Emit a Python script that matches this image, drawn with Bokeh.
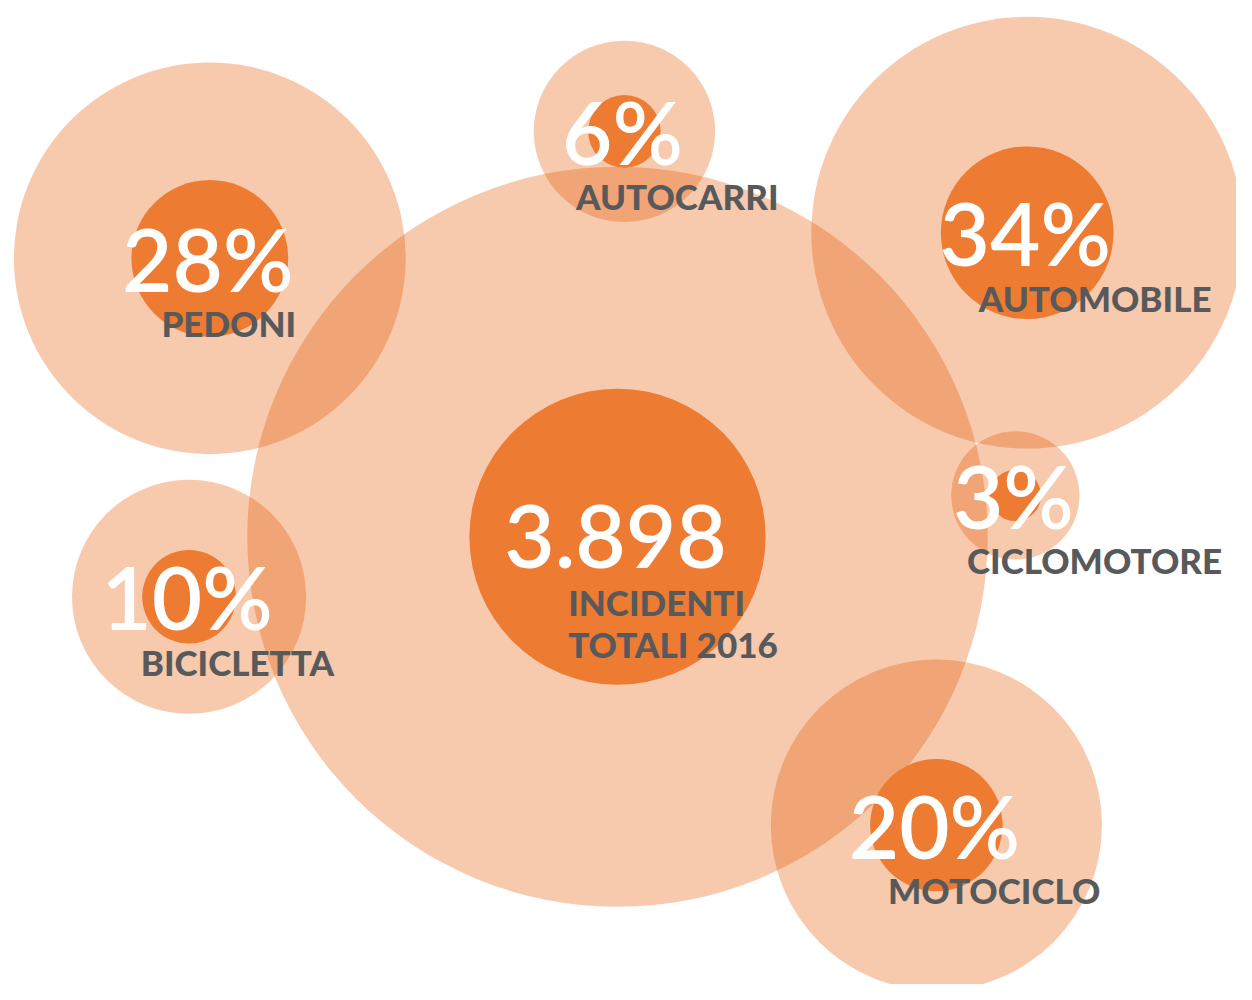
from math import sqrt
from bokeh.plotting import figure
from bokeh.models import ColumnDataSource, Range1d
from bokeh.core.properties import value
from bokeh.embed import file_html
from bokeh.resources import INLINE

# ---- data ----
categories = ["PEDONI", "AUTOCARRI", "AUTOMOBILE", "CICLOMOTORE", "BICICLETTA", "MOTOCICLO"]
shares = [28, 6, 34, 3, 10, 20]          # % of total accidents
total_accidents = 3898
total_label = ["INCIDENTI", "TOTALI 2016"]

# ---- layout (bubble centres, reference pixels) ----
cx = [212, 632, 1040, 1028, 191, 948]
cy = [262, 133, 236, 503, 606, 838]
total_cx, total_cy = 625, 545

INNER_K = 15.0    # inner radius = K * sqrt(share)
OUTER_F = 2.5     # outer halo = F * inner radius

HALO = "#E65600"
DARK = "#ED7B32"
GREY = "#58595B"

all_x = [total_cx] + cx
all_y = [total_cy] + cy
all_share = [100] + shares
inner_r = [INNER_K * sqrt(s) for s in all_share]
outer_r = [OUTER_F * r for r in inner_r]

bubbles = ColumnDataSource(dict(x=all_x, y=all_y, ri=inner_r, ro=outer_r))

num_text = [f"{total_accidents:,}".replace(",", ".")] + [f"{s}%" for s in shares]
nums = ColumnDataSource(dict(x=[x - 2 for x in all_x], y=all_y, t=num_text))

lab_x = [total_cx - 50, total_cx - 50] + [x - 49 for x in cx]
lab_y = [total_cy + 66, total_cy + 109] + [y + 66 for y in cy]
lab_t = total_label + categories
labels = ColumnDataSource(dict(x=lab_x, y=lab_y, t=lab_t))

p = figure(width=1236, height=984, output_backend="svg", toolbar_location=None,
           x_range=Range1d(0, 1252), y_range=Range1d(1000, 0),
           x_axis_type=None, y_axis_type=None, min_border=0,
           outline_line_color=None, background_fill_color="white",
           border_fill_color="white")
p.grid.visible = False

p.circle(x="x", y="y", radius="ro", source=bubbles, fill_color=HALO,
         fill_alpha=0.32, line_color=None)
p.circle(x="x", y="y", radius="ri", source=bubbles, fill_color=DARK,
         fill_alpha=1.0, line_color=None)

p.text(x="x", y="y", text="t", source=nums, text_font=value("Lato Semibold"),
       text_font_size="87px", text_font_style="normal", text_color="white",
       text_align="center", text_baseline="alphabetic")
p.text(x="x", y="y", text="t", source=labels, text_font=value("Lato Heavy"),
       text_font_size="35px", text_font_style="normal", text_color=GREY,
       text_align="left", text_baseline="alphabetic")

open("out.html", "w").write(file_html(p, INLINE))
